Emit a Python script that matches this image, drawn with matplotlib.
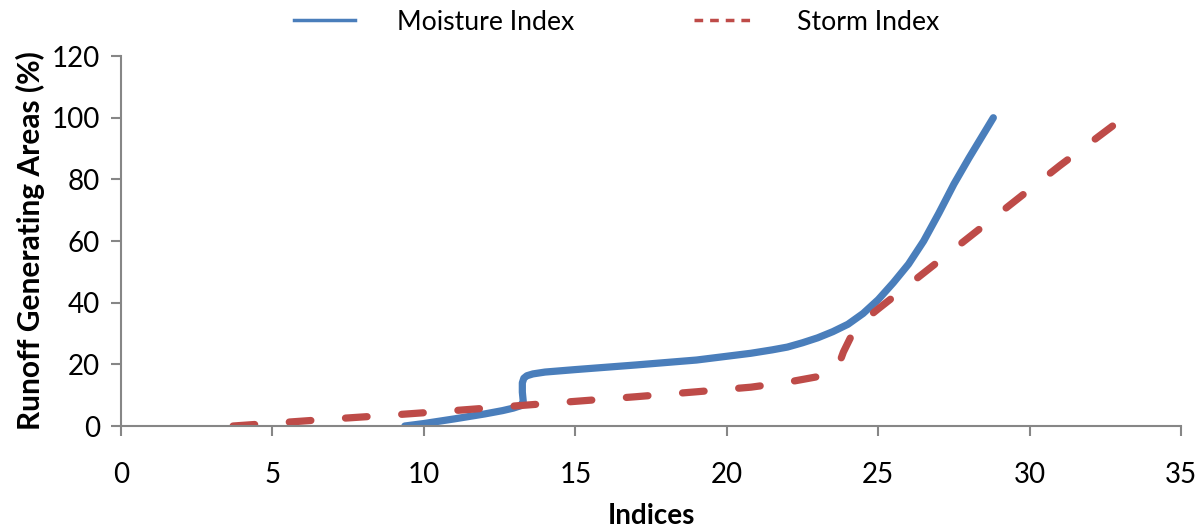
import matplotlib.pyplot as plt
from matplotlib.lines import Line2D

# font close to Calibri
plt.rcParams['font.family'] = ['Lato', 'DejaVu Sans']

# values
moistureX = [9.37, 10.0, 11.0, 12.0, 12.6, 12.95, 13.2, 13.28, 13.25, 13.25, 13.3, 13.4,
             13.6, 14.0, 15.0, 17.0, 19.0, 20.8, 21.5, 22.0, 22.5, 23.0, 23.5, 24.0,
             24.5, 25.0, 25.5, 26.0, 26.5, 27.0, 27.5, 28.0, 28.4, 28.8]
moistureY = [0.0, 0.8, 2.3, 3.9, 5.0, 5.8, 6.6, 8.0, 11.0, 14.0, 15.5, 16.3,
             16.9, 17.5, 18.3, 19.8, 21.4, 23.6, 24.7, 25.6, 27.0, 28.6, 30.6, 33.0,
             36.5, 41.0, 46.5, 52.5, 60.0, 69.0, 78.5, 87.0, 93.5, 100.0]

stormX = [3.7, 5.0, 7.0, 9.0, 11.0, 13.0, 15.0, 17.0, 19.0, 20.8, 22.0, 23.0, 23.4,
          23.6, 23.72, 23.85, 24.1, 24.5, 25.0, 27.0, 29.0, 31.0, 33.1]
stormY = [0.0, 0.9, 2.3, 3.6, 5.0, 6.5, 8.0, 9.5, 11.1, 12.6, 14.2, 16.0, 17.0,
          18.3, 20.5, 24.0, 29.0, 34.0, 38.0, 53.5, 69.0, 84.5, 100.0]

xTicks = [0, 5, 10, 15, 20, 25, 30, 35]
yTicks = [0, 20, 40, 60, 80, 100, 120]

blue = '#4a7ebb'
red = '#be4b48'
grey = '#868686'

fig = plt.figure(figsize=(12.04, 5.29), dpi=100)
ax = fig.add_axes([0.1005, 0.1947, 0.8805, 0.6993])

ax.plot(moistureX, moistureY, color=blue, lw=5.2, solid_capstyle='round',
        solid_joinstyle='round')
ax.plot(stormX, stormY, color=red, lw=5.2, linestyle=(0, (3.0, 4.8)),
        dash_capstyle='round', dash_joinstyle='round')

ax.set_xlim(0, 35)
ax.set_ylim(0, 120)
ax.set_xticks(xTicks)
ax.set_yticks(yTicks)

for side in ['top', 'right']:
    ax.spines[side].set_visible(False)
for side in ['left', 'bottom']:
    ax.spines[side].set_color(grey)
    ax.spines[side].set_linewidth(1.5)
ax.tick_params(axis='both', colors=grey, labelcolor='black', labelsize=20,
               length=7, width=1.5, direction='out')
ax.tick_params(axis='x', pad=19)
ax.tick_params(axis='y', pad=8)

ax.set_xlabel('Indices', fontsize=20, fontweight='bold', labelpad=11)
ax.set_ylabel('Runoff Generating Areas (%)', fontsize=21.5, fontweight='bold', labelpad=5)

handles = [Line2D([], [], color=blue, lw=2.5),
           Line2D([], [], color=red, lw=2.5, linestyle=(0, (2.5, 2.0)))]
fig.legend(handles, ['Moisture Index', 'Storm Index'], loc='center',
           bbox_to_anchor=(0.512, 0.958), ncol=2, frameon=False, fontsize=19.2,
           handlelength=2.3, handletextpad=1.55, columnspacing=4.5)

fig.savefig('out.png', dpi=100)
